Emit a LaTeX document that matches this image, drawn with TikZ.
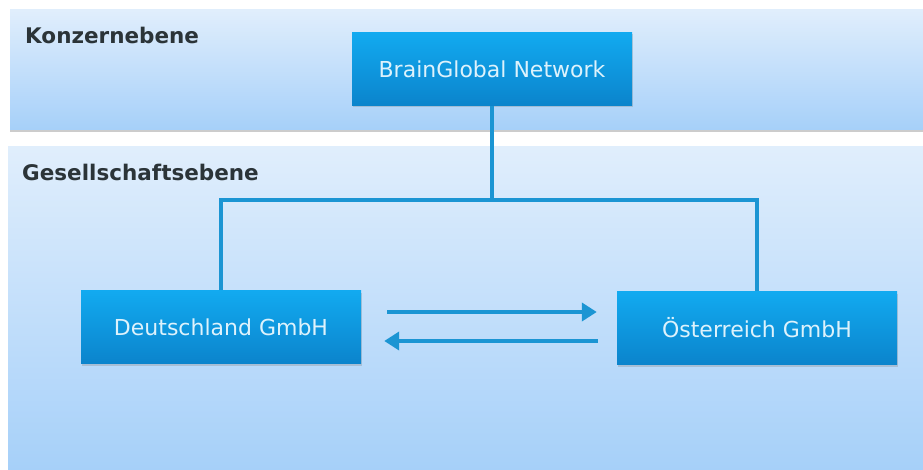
\documentclass[tikz,border=0pt]{standalone}
\usepackage{fontspec}
\setmainfont{DejaVu Sans}
\usetikzlibrary{arrows.meta,shadows}

\definecolor{bandtop}{HTML}{E0EEFC}
\definecolor{bandbot}{HTML}{A6D0F9}
\definecolor{boxtop}{HTML}{12AAF0}
\definecolor{boxbot}{HTML}{0B84CC}
\definecolor{boxtext}{HTML}{DDF2FC}
\definecolor{linkblue}{HTML}{1B95D3}
\definecolor{leveltext}{HTML}{2B3438}

\begin{document}
\begin{tikzpicture}[x=1pt,y=-1pt,
	band/.style={top color=bandtop,bottom color=bandbot,draw=none,
		drop shadow={opacity=0.4,shadow xshift=0pt,shadow yshift=-2.5pt}},
	unit/.style={rectangle,minimum width=280pt,minimum height=73pt,
		top color=boxtop,bottom color=boxbot,text=boxtext,
		font=\fontsize{22}{26}\selectfont,
		drop shadow={opacity=0.3,shadow xshift=1pt,shadow yshift=-2pt}},
	level/.style={anchor=base west,inner sep=0pt,text=leveltext,
		font=\bfseries\fontsize{21.5}{26}\selectfont},
	link/.style={draw=linkblue,line width=4pt},
	flow/.style={link,-{Triangle[length=15pt,width=18pt]}}]
	\useasboundingbox (0,0) rectangle (923,470);
	\fill[white] (0,0) rectangle (923,470);
	% the two levels
	\fill[band] (10,10) rectangle (923,130);
	\fill[band] (8,147) rectangle (923,470);
	\node[level] (konzern) at (25,44) {Konzernebene};
	\node[level] (gesell) at (22,181) {Gesellschaftsebene};

	% units
	\node[unit] (net) at (492,69) {BrainGlobal Network};
	\node[unit] (de) at (221,327) {Deutschland GmbH};
	\node[unit] (at) at (757,328) {Österreich GmbH};

	% connectors
	\coordinate (hub) at (492,200);
	\draw[link] (net.south) -- (hub);
	\draw[link] (de.north) |- (hub) -| (at.north);
	\draw[flow,shorten <=26pt,shorten >=20pt] ([yshift=15pt]de.east) -- ([yshift=15pt]de.east -| at.west);
	\draw[flow,shorten <=19pt,shorten >=23pt] ([yshift=-14pt]de.east -| at.west) -- ([yshift=-14pt]de.east);
\end{tikzpicture}
\end{document}
